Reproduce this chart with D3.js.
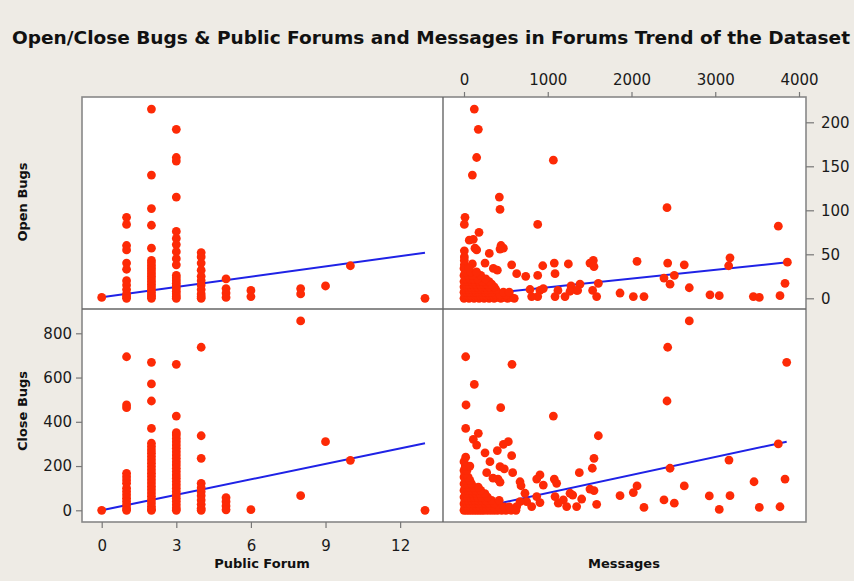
<!DOCTYPE html>
<html>
<head>
<meta charset="utf-8">
<script src="https://cdn.jsdelivr.net/npm/d3@7"></script>
<style>
  html, body { margin: 0; padding: 0; background: #eeebe5; }
  svg { display: block; }
  .tick text { font-family: "DejaVu Sans", sans-serif; font-size: 15px; fill: #1a1a1a; }
  .tick line { stroke: #777; stroke-width: 1.2; }
</style>
</head>
<body>
<svg id="chart" width="854" height="581"></svg>
<script>
// ---- data: [Public Forum, Open Bugs] ----
const forumOpen = [
  [0,1],
  [1,92],[1,84],[1,60],[1,55],[1,40],[1,33],[1,20],[1,15],[1,10],[1,5],[1,2],[1,0],
  [2,215],[2,140],[2,102],[2,83],[2,57],[2,43],[2,40],[2,37],[2,34],[2,31],[2,28],[2,25],[2,22],[2,19],[2,16],[2,13],[2,10],[2,7],[2,4],[2,2],[2,0],
  [3,192],[3,160],[3,156],[3,115],[3,76],[3,68],[3,61],[3,53],[3,45],[3,38],[3,26],[3,23],[3,20],[3,17],[3,14],[3,11],[3,8],[3,5],[3,2],[3,0],
  [4,52],[4,47],[4,40],[4,32],[4,25],[4,20],[4,15],[4,10],[4,5],[4,2],[4,0],
  [5,22],[5,11],[5,6],[5,1],
  [6,9],[6,2],
  [8,11],[8,5],
  [9,14],
  [10,37],
  [13,0]
];

// ---- data: [Public Forum, Close Bugs] ----
const forumClose = [
  [0,0],
  [1,694],[1,476],[1,464],[1,167],[1,152],[1,137],[1,122],[1,100],[1,85],[1,70],[1,55],[1,40],[1,25],[1,10],[1,0],
  [2,669],[2,571],[2,494],[2,370],[2,303],[2,288],[2,273],[2,258],[2,243],[2,228],[2,213],[2,198],[2,183],[2,168],[2,153],[2,138],[2,123],[2,108],[2,93],[2,78],[2,63],[2,48],[2,33],[2,18],[2,5],[2,0],
  [3,660],[3,426],[3,351],[3,340],[3,325],[3,310],[3,295],[3,280],[3,265],[3,250],[3,235],[3,220],[3,205],[3,190],[3,175],[3,160],[3,145],[3,130],[3,115],[3,100],[3,85],[3,70],[3,55],[3,40],[3,25],[3,10],[3,0],
  [4,737],[4,337],[4,235],[4,122],[4,102],[4,84],[4,66],[4,46],[4,27],[4,9],[4,0],
  [5,57],[5,39],[5,20],[5,2],
  [6,3],
  [8,856],[8,66],
  [9,310],
  [10,226],
  [13,0]
];

// ---- data: [Messages, Open Bugs] ----
const messagesOpen = [
  [123,215],[171,192],[151,160],[100,140],[1067,157],[422,115],[430,101],[2424,103],
  [12,92],[4,84],[880,84],[3753,82],[179,75],[63,66],[111,67],[131,57],[151,55],
  [442,60],[470,57],[430,56],[4,54],[302,51],[4,47],[4,43],[4,38],[100,39],[251,40],
  [350,34],[398,32],[569,38],[629,28],[737,25],[880,26],[940,37],[1078,40],[1087,28],
  [1246,39],[1504,40],[1544,43],[1552,36],[1604,17],[1385,16],[1278,14],[1345,9],
  [1536,9],[1584,2],[1863,6],[2022,2],[2149,2],[2066,42],[2388,23],[2432,40],[2460,16],
  [2511,26],[2630,38],[2690,12],[2937,4],[3048,3],[3176,46],[3160,37],[3455,2],[3526,1],
  [3773,3],[3833,17],[3861,41],
  [788,10],[907,9],[1087,2],[1206,2],[1122,9],[1266,8],[1357,9],[947,11],[880,2],[808,2],
  // dense group of small projects
  [0,0],[30,1],[60,0],[90,1],[120,0],[150,1],[180,0],[210,1],[240,0],[270,1],[300,0],[330,1],[360,0],[400,1],[440,0],[480,1],[520,0],[560,1],[600,0],
  [10,4],[40,4],[75,4],[110,4],[145,4],[185,4],[220,4],[260,4],[300,4],[340,4],[380,4],[430,4],[500,4],
  [0,7],[35,7],[70,7],[105,7],[140,7],[175,7],[215,7],[250,7],[290,7],[330,7],[470,7],[540,7],
  [15,10],[50,10],[90,10],[125,10],[165,10],[200,10],[240,10],[280,10],[320,10],[380,10],
  [0,13],[40,13],[80,13],[120,13],[160,13],[210,13],[250,13],[300,13],[360,13],
  [20,16],[60,16],[100,16],[140,16],[190,16],[230,16],[270,16],[330,16],
  [0,19],[45,19],[90,19],[130,19],[180,19],[220,19],[300,19],
  [25,22],[70,22],[115,22],[160,22],[260,22],
  [0,26],[50,26],[100,26],[200,26],
  [20,30],[80,30],[150,30],
  [0,34],[60,34]
];

// ---- data: [Messages, Close Bugs] ----
const messagesClose = [
  [2690,856],[2432,737],[20,694],[3853,669],[573,660],[123,569],[24,476],[2424,494],
  [438,464],[1067,426],[20,370],[1604,337],[171,348],[111,321],[529,310],[470,298],
  [398,270],[151,295],[251,260],[569,247],[1552,235],[3164,227],[3753,300],[310,220],
  [430,197],[481,187],[1532,190],[2460,190],[1377,170],[271,170],[581,170],[907,160],
  [868,141],[1078,141],[1106,122],[669,129],[681,111],[947,114],[346,145],[406,141],
  [430,127],[3463,129],[3833,141],[2630,110],[2066,110],[2022,80],[1504,96],[1552,89],
  [1266,77],[1298,69],[1405,51],[1863,66],[2388,47],[2511,32],[2929,65],[3176,66],
  [1584,27],[2149,13],[3048,4],[3526,13],[3773,16],[728,77],
  [748,39],[868,62],[907,35],[808,17],[1087,62],[1186,47],[1226,17],[1345,17],[1126,32],[669,39],[629,17],
  // dense group of small projects
  [0,0],[30,0],[60,0],[90,0],[120,0],[150,0],[180,0],[210,0],[240,0],[280,0],[320,0],[360,0],[400,0],[450,0],[500,0],[560,0],[620,0],
  [10,15],[45,15],[80,15],[115,15],[150,15],[190,15],[230,15],[270,15],[310,15],[350,15],[420,15],[480,15],[540,15],
  [0,30],[35,30],[70,30],[105,30],[140,30],[175,30],[215,30],[255,30],[300,30],[360,30],
  [15,45],[50,45],[90,45],[130,45],[170,45],[210,45],[260,45],[330,45],[420,45],
  [0,60],[40,60],[80,60],[120,60],[160,60],[210,60],[280,60],
  [20,75],[60,75],[100,75],[145,75],[190,75],[250,75],
  [0,90],[45,90],[90,90],[140,90],[200,90],
  [15,105],[60,105],[110,105],[170,105],
  [0,120],[40,120],[90,120],
  [20,135],[70,135],
  [0,150],[50,150],
  [10,165],
  [0,180],[35,180],
  [15,200],[70,200],
  [0,220],
  [20,240]
];

// ---- fitted regression lines: [intercept, slope, x-from, x-to] ----
const fitForumOpen = [1.1, 3.9, 0, 13];
const fitMessagesOpen = [2.4, 0.00999, 0, 3861];
const fitForumClose = [0, 23.3, 0, 13];
const fitMessagesClose = [-3, 0.0813, 0, 3853];

// ---- tick labels ----
const forumTicks = [0, 3, 6, 9, 12];
const messageTicks = [0, 1000, 2000, 3000, 4000];
const openTicks = [0, 50, 100, 150, 200];
const closeTicks = [0, 200, 400, 600, 800];

const titleText = "Open/Close Bugs & Public Forums and Messages in Forums Trend of the Dataset";

// ---- layout ----
const svg = d3.select("#chart");
const L = 82, M = 443, R = 806, T = 97, H = 309, B = 522;
const dotColor = "#fd2a06", lineColor = "#1f22e6", frameColor = "#888";

const xF = d3.scaleLinear().domain([0, 13]).range([101.7, 425]);
const xM = d3.scaleLinear().domain([0, 4000]).range([464, 799]);
const yO = d3.scaleLinear().domain([0, 200]).range([298.3, 122.3]);
const yC = d3.scaleLinear().domain([0, 800]).range([510.3, 333.3]);

// title
svg.append("text")
  .attr("x", 12).attr("y", 44)
  .attr("textLength", 838).attr("lengthAdjust", "spacingAndGlyphs")
  .style("font-family", "'DejaVu Sans', sans-serif")
  .style("font-size", "17px").style("font-weight", "bold").style("fill", "#111")
  .text(titleText);

// white plotting area
svg.append("rect").attr("x", L).attr("y", T).attr("width", R - L).attr("height", B - T)
  .attr("fill", "#fff");

const defs = svg.append("defs");
const panels = [
  { id: "p1", x0: L, x1: M, y0: T, y1: H, xs: xF, ys: yO, data: forumOpen, fit: fitForumOpen },
  { id: "p2", x0: M, x1: R, y0: T, y1: H, xs: xM, ys: yO, data: messagesOpen, fit: fitMessagesOpen },
  { id: "p3", x0: L, x1: M, y0: H, y1: B, xs: xF, ys: yC, data: forumClose, fit: fitForumClose },
  { id: "p4", x0: M, x1: R, y0: H, y1: B, xs: xM, ys: yC, data: messagesClose, fit: fitMessagesClose }
];

panels.forEach(p => {
  defs.append("clipPath").attr("id", "clip-" + p.id)
    .append("rect").attr("x", p.x0).attr("y", p.y0)
    .attr("width", p.x1 - p.x0).attr("height", p.y1 - p.y0);
  const g = svg.append("g").attr("clip-path", `url(#clip-${p.id})`);
  const [a, b, lo, hi] = p.fit;
  g.append("line")
    .attr("x1", p.xs(lo)).attr("y1", p.ys(a + b * lo))
    .attr("x2", p.xs(hi)).attr("y2", p.ys(a + b * hi))
    .attr("stroke", lineColor).attr("stroke-width", 2);
  g.selectAll("circle").data(p.data).join("circle")
    .attr("cx", d => p.xs(d[0])).attr("cy", d => p.ys(d[1]))
    .attr("r", 4.4).attr("fill", dotColor);
});

// frame and dividers
svg.append("rect").attr("x", L).attr("y", T).attr("width", R - L).attr("height", B - T)
  .attr("fill", "none").attr("stroke", frameColor).attr("stroke-width", 1.6);
svg.append("line").attr("x1", M).attr("x2", M).attr("y1", T).attr("y2", B)
  .attr("stroke", "#666").attr("stroke-width", 1.4);
svg.append("line").attr("x1", L).attr("x2", R).attr("y1", H).attr("y2", H)
  .attr("stroke", "#666").attr("stroke-width", 1.4);

// axes
const plain = d3.format("d");
function styleAxis(g) { g.select(".domain").remove(); }
svg.append("g").attr("transform", `translate(0,${T})`)
  .call(d3.axisTop(xM).tickValues(messageTicks).tickFormat(plain).tickSize(5).tickPadding(7)).call(styleAxis);
svg.append("g").attr("transform", `translate(${R},0)`)
  .call(d3.axisRight(yO).tickValues(openTicks).tickFormat(plain).tickSize(8).tickPadding(7)).call(styleAxis);
svg.append("g").attr("transform", `translate(${L},0)`)
  .call(d3.axisLeft(yC).tickValues(closeTicks).tickFormat(plain).tickSize(6).tickPadding(4)).call(styleAxis);
svg.append("g").attr("transform", `translate(0,${B})`)
  .call(d3.axisBottom(xF).tickValues(forumTicks).tickFormat(plain).tickSize(6).tickPadding(12)).call(styleAxis);

// axis titles
const titleStyle = s => s.style("font-family", "'DejaVu Sans', sans-serif")
  .style("font-size", "13px").style("font-weight", "bold").style("fill", "#111")
  .attr("text-anchor", "middle");
svg.append("text").attr("x", 262).attr("y", 568).text("Public Forum").call(titleStyle);
svg.append("text").attr("x", 624).attr("y", 568).text("Messages").call(titleStyle);
svg.append("text").attr("transform", "translate(27,202) rotate(-90)").text("Open Bugs").call(titleStyle);
svg.append("text").attr("transform", "translate(27,411) rotate(-90)").text("Close Bugs").call(titleStyle);
</script>
</body>
</html>
